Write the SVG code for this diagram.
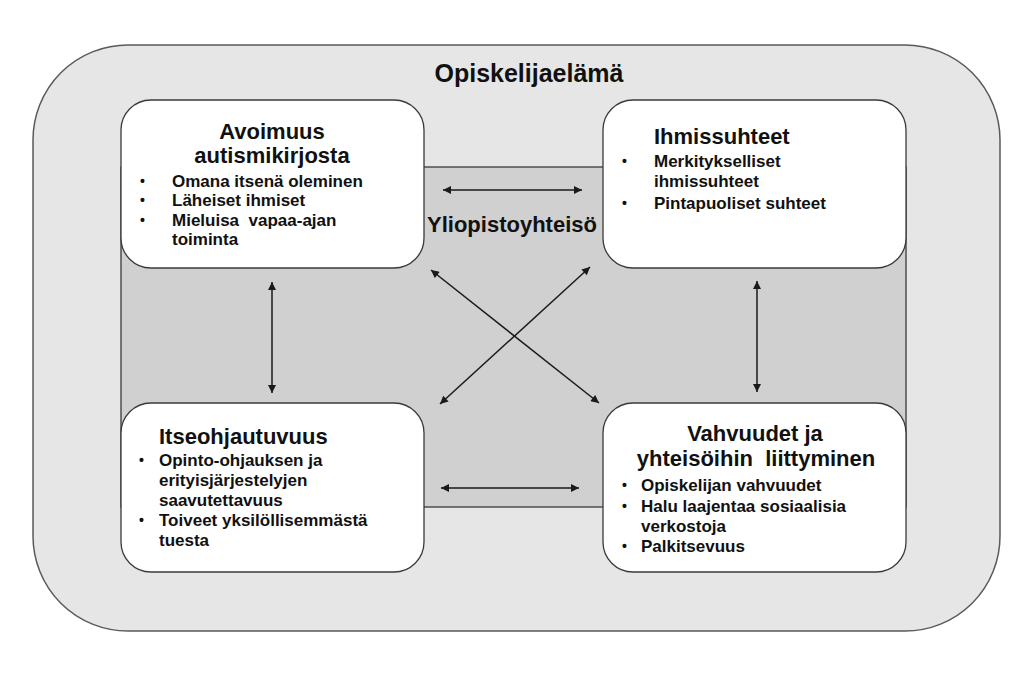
<svg xmlns="http://www.w3.org/2000/svg" width="1024" height="699" viewBox="0 0 1024 699">
<style>
text{font-family:"Liberation Sans",Arial,sans-serif;font-weight:bold;fill:#111}
.title{font-size:25px}
.h{font-size:22px}
.b{font-size:17px}
.dot{font-size:14px}
.pre{white-space:pre}
.box{fill:#fff;stroke:#3a3a3a;stroke-width:1.3}
.conn{stroke:#1a1a1a;stroke-width:1.5;fill:none;marker-start:url(#ah);marker-end:url(#ah)}
</style>
<defs>
<marker id="ah" viewBox="0 0 10 10" refX="10" refY="5" markerWidth="9" markerHeight="8" markerUnits="userSpaceOnUse" orient="auto-start-reverse">
<path d="M0,0 L10,5 L0,10 z" fill="#1a1a1a"/>
</marker>
</defs>
<rect width="1024" height="699" fill="#fff"/>
<g id="opiskelijaelama">
<rect x="33" y="45" width="967" height="586" rx="95" ry="95" fill="#e6e6e6" stroke="#5a5a5a" stroke-width="1.5"/>
<text class="title" x="529" y="82" text-anchor="middle">Opiskelijaelämä</text>
</g>
<g id="yliopistoyhteiso">
<rect x="121" y="167" width="785" height="340" fill="#d0d0d0" stroke="#3a3a3a" stroke-width="1.3"/>
<text class="h" x="512" y="232" text-anchor="middle">Yliopistoyhteisö</text>
</g>
<g id="connectors">
<line class="conn" x1="443" y1="190" x2="582" y2="190"/>
<line class="conn" x1="441" y1="488" x2="579" y2="488" stroke-width="2"/>
<line class="conn" x1="272" y1="282" x2="272" y2="393"/>
<line class="conn" x1="757" y1="281" x2="757" y2="392"/>
<line class="conn" x1="431" y1="270" x2="599" y2="403"/>
<line class="conn" x1="590" y1="267" x2="440" y2="404"/>
</g>
<g id="avoimuus">
<rect class="box" x="121" y="100" width="303" height="168" rx="30" ry="30"/>
<text class="h" x="272" y="139" text-anchor="middle">Avoimuus</text>
<text class="h" x="272" y="163" text-anchor="middle">autismikirjosta</text>
<text class="dot" x="140" y="186">•</text><text class="b" x="172" y="187">Omana itsenä oleminen</text>
<text class="dot" x="140" y="205">•</text><text class="b" x="172" y="206">Läheiset ihmiset</text>
<text class="dot" x="140" y="225">•</text><text class="b pre" x="172" y="226">Mieluisa  vapaa-ajan</text>
<text class="b" x="172" y="245">toiminta</text>
</g>
<g id="ihmissuhteet">
<rect class="box" x="603" y="100" width="303" height="168" rx="30" ry="30"/>
<text class="h" x="654" y="144">Ihmissuhteet</text>
<text class="dot" x="622" y="166">•</text><text class="b" x="654" y="167">Merkitykselliset</text>
<text class="b" x="654" y="187">ihmissuhteet</text>
<text class="dot" x="622" y="208">•</text><text class="b" x="654" y="209">Pintapuoliset suhteet</text>
</g>
<g id="itseohjautuvuus">
<rect class="box" x="121" y="403" width="303" height="169" rx="30" ry="30"/>
<text class="h" x="159" y="444">Itseohjautuvuus</text>
<text class="dot" x="139" y="465">•</text><text class="b" x="159" y="466">Opinto-ohjauksen ja</text>
<text class="b" x="159" y="486">erityisjärjestelyjen</text>
<text class="b" x="159" y="506">saavutettavuus</text>
<text class="dot" x="139" y="525">•</text><text class="b" x="159" y="526">Toiveet yksilöllisemmästä</text>
<text class="b" x="159" y="546">tuesta</text>
</g>
<g id="vahvuudet">
<rect class="box" x="603" y="403" width="303" height="169" rx="30" ry="30"/>
<text class="h" x="755" y="441" text-anchor="middle">Vahvuudet ja</text>
<text class="h pre" x="756" y="466" text-anchor="middle">yhteisöihin  liittyminen</text>
<text class="dot" x="622" y="490">•</text><text class="b" x="641" y="491">Opiskelijan vahvuudet</text>
<text class="dot" x="622" y="511">•</text><text class="b" x="641" y="512">Halu laajentaa sosiaalisia</text>
<text class="b" x="641" y="532">verkostoja</text>
<text class="dot" x="622" y="551">•</text><text class="b" x="641" y="552">Palkitsevuus</text>
</g>
</svg>
